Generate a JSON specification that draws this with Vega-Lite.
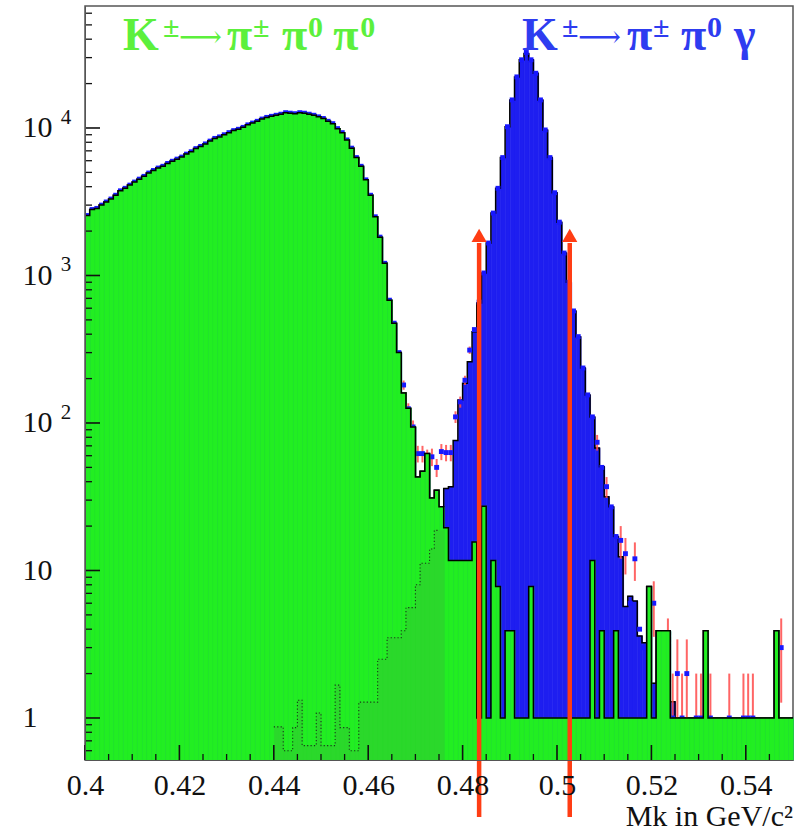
{
"$schema": "https://vega.github.io/schema/vega-lite/v6.json",
"width": 708, "height": 754,
"autosize": "none",
"padding": {"left": 85, "top": 6, "right": 10, "bottom": 72},
"background": "white",
"config": {"view": {"stroke": "#555", "strokeWidth": 1.5}},
"datasets": {
"bins": [
{"b":0.400,"t":2550,"g":2550,"d":2550},
{"b":0.401,"t":2800,"g":2800,"d":2800},
{"b":0.402,"t":2850,"g":2850,"d":2850},
{"b":0.403,"t":3000,"g":3000,"d":3000},
{"b":0.404,"t":3150,"g":3150,"d":3150},
{"b":0.405,"t":3300,"g":3300,"d":3300},
{"b":0.406,"t":3500,"g":3500,"d":3500},
{"b":0.407,"t":3750,"g":3750,"d":3750},
{"b":0.408,"t":3900,"g":3900,"d":3900},
{"b":0.409,"t":4100,"g":4100,"d":4100},
{"b":0.410,"t":4300,"g":4300,"d":4300},
{"b":0.411,"t":4500,"g":4500,"d":4500},
{"b":0.412,"t":4700,"g":4700,"d":4700},
{"b":0.413,"t":4950,"g":4950,"d":4950},
{"b":0.414,"t":5150,"g":5150,"d":5150},
{"b":0.415,"t":5350,"g":5350,"d":5350},
{"b":0.416,"t":5500,"g":5500,"d":5500},
{"b":0.417,"t":5750,"g":5750,"d":5750},
{"b":0.418,"t":5950,"g":5950,"d":5950},
{"b":0.419,"t":6150,"g":6150,"d":6150},
{"b":0.420,"t":6350,"g":6350,"d":6350},
{"b":0.421,"t":6650,"g":6650,"d":6650},
{"b":0.422,"t":6900,"g":6900,"d":6900},
{"b":0.423,"t":7250,"g":7250,"d":7250},
{"b":0.424,"t":7500,"g":7500,"d":7500},
{"b":0.425,"t":7800,"g":7800,"d":7800},
{"b":0.426,"t":8150,"g":8150,"d":8150},
{"b":0.427,"t":8500,"g":8500,"d":8500},
{"b":0.428,"t":8700,"g":8700,"d":8700},
{"b":0.429,"t":9000,"g":9000,"d":9000},
{"b":0.430,"t":9300,"g":9300,"d":9300},
{"b":0.431,"t":9600,"g":9600,"d":9600},
{"b":0.432,"t":9800,"g":9800,"d":9800},
{"b":0.433,"t":10100,"g":10100,"d":10100},
{"b":0.434,"t":10500,"g":10500,"d":10500},
{"b":0.435,"t":10800,"g":10800,"d":10800},
{"b":0.436,"t":11100,"g":11100,"d":11100},
{"b":0.437,"t":11500,"g":11500,"d":11500},
{"b":0.438,"t":11800,"g":11800,"d":11800},
{"b":0.439,"t":12000,"g":12000,"d":12000},
{"b":0.440,"t":12200,"g":12200,"d":12200,"o":0.87},
{"b":0.441,"t":12400,"g":12400,"d":12400,"o":0.87},
{"b":0.442,"t":12700,"g":12700,"d":12700,"o":0.6},
{"b":0.443,"t":12600,"g":12600,"d":12600,"o":0.6},
{"b":0.444,"t":12500,"g":12500,"d":12500,"o":0.86},
{"b":0.445,"t":12700,"g":12700,"d":12700,"o":1.32},
{"b":0.446,"t":12600,"g":12600,"d":12600,"o":0.65},
{"b":0.447,"t":12400,"g":12400,"d":12400,"o":0.65},
{"b":0.448,"t":12200,"g":12200,"d":12200,"o":0.65},
{"b":0.449,"t":11900,"g":11900,"d":11900,"o":1.08},
{"b":0.450,"t":11600,"g":11600,"d":11600,"o":0.65},
{"b":0.451,"t":11100,"g":11100,"d":11100,"o":0.65},
{"b":0.452,"t":10700,"g":10700,"d":10700,"o":0.65},
{"b":0.453,"t":9900,"g":9900,"d":9900,"o":1.67},
{"b":0.454,"t":9300,"g":9300,"d":9300,"o":0.86},
{"b":0.455,"t":8300,"g":8300,"d":8300,"o":0.86},
{"b":0.456,"t":7300,"g":7300,"d":7300,"o":0.6},
{"b":0.457,"t":6300,"g":6300,"d":6300,"o":0.6},
{"b":0.458,"t":5500,"g":5500,"d":5500,"o":1.28},
{"b":0.459,"t":4450,"g":4450,"d":4450,"o":1.28},
{"b":0.460,"t":3500,"g":3500,"d":3500,"o":1.28},
{"b":0.461,"t":2500,"g":2500,"d":2500,"o":1.28},
{"b":0.462,"t":1820,"g":1820,"d":1820,"o":2.5},
{"b":0.463,"t":1210,"g":1210,"d":1210,"o":2.5},
{"b":0.464,"t":680,"g":680,"d":680,"o":3.5},
{"b":0.465,"t":475,"g":475,"d":475,"o":3.5},
{"b":0.466,"t":300,"g":300,"d":300,"o":3.5},
{"b":0.467,"t":160,"g":160,"o":3.9,"d":181,"lo":168,"hi":194},
{"b":0.468,"t":126,"g":126,"o":5.6,"d":125,"lo":114,"hi":136},
{"b":0.469,"t":94,"g":94,"o":5.6,"d":94,"lo":84,"hi":104},
{"b":0.470,"t":43,"g":43,"o":8,"d":62,"lo":54,"hi":70},
{"b":0.471,"t":47,"g":47,"o":11.2,"d":62,"lo":54,"hi":70},
{"b":0.472,"t":62,"g":62,"o":11.2,"d":58,"lo":50,"hi":66},
{"b":0.473,"t":31,"g":31,"o":14,"d":59,"lo":51,"hi":67},
{"b":0.474,"t":35,"g":35,"o":18.7,"d":50,"lo":43,"hi":57},
{"b":0.475,"t":27,"g":27,"o":18.7,"d":64,"lo":56,"hi":72},
{"b":0.476,"t":36,"g":19.5,"d":63,"lo":55,"hi":71},
{"b":0.477,"t":37,"g":11.7,"d":63,"lo":55,"hi":71},
{"b":0.478,"t":76,"g":11.7,"d":110,"lo":100,"hi":120},
{"b":0.479,"t":143,"g":11.7,"d":139,"lo":127,"hi":151},
{"b":0.480,"t":186,"g":11.7,"d":195,"lo":181,"hi":209},
{"b":0.481,"t":260,"g":11.7,"d":312,"lo":294,"hi":330},
{"b":0.482,"t":415,"g":15.6,"d":430},
{"b":0.483,"t":650,"g":1,"d":660},
{"b":0.484,"t":1040,"g":27.3,"d":1040},
{"b":0.485,"t":1660,"g":1,"d":1660},
{"b":0.486,"t":2650,"g":11.7,"d":2650},
{"b":0.487,"t":3900,"g":7.8,"d":3900},
{"b":0.488,"t":6300,"g":1,"d":6300},
{"b":0.489,"t":10200,"g":3.9,"d":10200},
{"b":0.490,"t":15500,"g":3.9,"d":15500},
{"b":0.491,"t":22200,"g":1,"d":22200},
{"b":0.492,"t":29000,"g":1,"d":29000},
{"b":0.493,"t":32000,"g":1,"d":32500},
{"b":0.494,"t":29000,"g":7.8,"d":29000},
{"b":0.495,"t":23500,"g":1,"d":23500},
{"b":0.496,"t":15500,"g":1,"d":15500},
{"b":0.497,"t":9700,"g":1,"d":9700},
{"b":0.498,"t":6300,"g":1,"d":6300},
{"b":0.499,"t":3640,"g":1,"d":3640},
{"b":0.500,"t":2300,"g":1,"d":2300},
{"b":0.501,"t":1420,"g":1,"d":1420},
{"b":0.502,"t":900,"g":1,"d":900},
{"b":0.503,"t":575,"g":1,"d":575},
{"b":0.504,"t":385,"g":1,"d":385},
{"b":0.505,"t":236,"g":1,"d":236},
{"b":0.506,"t":155,"g":1,"d":155},
{"b":0.507,"t":110,"g":11.7,"d":110},
{"b":0.508,"t":67.6,"g":1,"d":74,"lo":65,"hi":83},
{"b":0.509,"t":50.5,"g":3.9,"d":50},
{"b":0.510,"t":31.6,"g":1,"d":37,"lo":31,"hi":43},
{"b":0.511,"t":27,"g":1,"d":27},
{"b":0.512,"t":17,"g":3.9,"d":17},
{"b":0.513,"t":12.4,"g":1,"d":16,"lo":12,"hi":20},
{"b":0.514,"t":5.7,"g":1,"d":13,"lo":9.4,"hi":16.6},
{"b":0.515,"t":6.7,"g":1,"d":6},
{"b":0.516,"t":6.2,"g":1,"d":12,"lo":8.5,"hi":15.5},
{"b":0.517,"t":3.6,"g":1,"d":4},
{"b":0.518,"t":3.24,"g":1,"d":3},
{"b":0.519,"t":7.8,"g":7.8},
{"b":0.520,"t":1.72,"g":1,"d":6,"lo":3.55,"hi":8.45},
{"b":0.521,"t":3.9,"g":3.9},
{"b":0.522,"t":3.9,"g":3.9},
{"b":0.523,"t":3.9,"g":3.9,"d":3,"lo":1.27,"hi":4.73},
{"b":0.524,"t":1.29,"g":1,"d":1,"lo":0.52,"hi":2},
{"b":0.525,"t":1,"g":1,"d":2,"lo":0.59,"hi":3.41},
{"b":0.526,"t":1,"g":1,"d":1,"lo":0.52,"hi":2},
{"b":0.527,"t":1,"g":1,"d":2,"lo":0.59,"hi":3.41},
{"b":0.528,"t":1,"g":1},
{"b":0.529,"t":1,"g":1,"d":1,"lo":0.52,"hi":2},
{"b":0.530,"t":1,"g":1,"d":1,"lo":0.52,"hi":2},
{"b":0.531,"t":3.9,"g":3.9},
{"b":0.532,"t":1,"g":1,"d":1,"lo":0.52,"hi":2},
{"b":0.533,"t":1,"g":1},
{"b":0.534,"t":1,"g":1},
{"b":0.535,"t":1,"g":1},
{"b":0.536,"t":1,"g":1,"d":1,"lo":0.52,"hi":2},
{"b":0.537,"t":1,"g":1},
{"b":0.538,"t":1,"g":1},
{"b":0.539,"t":1,"g":1,"d":1,"lo":0.52,"hi":2},
{"b":0.540,"t":1,"g":1,"d":1,"lo":0.52,"hi":2},
{"b":0.541,"t":1,"g":1,"d":1,"lo":0.52,"hi":2},
{"b":0.542,"t":1,"g":1},
{"b":0.543,"t":1,"g":1},
{"b":0.544,"t":1,"g":1},
{"b":0.545,"t":1,"g":1},
{"b":0.546,"t":3.9,"g":3.9},
{"b":0.547,"t":1,"g":1,"d":3,"lo":1.27,"hi":4.73},
{"b":0.548,"t":1,"g":1},
{"b":0.549,"t":1,"g":1},
{"b":0.550,"t":1,"g":1}
],
"cuts": [{"m": 0.4835}, {"m": 0.5027}],
"exps": [{"v": 100, "p": "2"}, {"v": 1000, "p": "3"}, {"v": 10000, "p": "4"}],
"xt": [{"v":0.4,"m":1},{"v":0.405,"m":0},{"v":0.41,"m":0},{"v":0.415,"m":0},{"v":0.42,"m":1},{"v":0.425,"m":0},{"v":0.43,"m":0},{"v":0.435,"m":0},{"v":0.44,"m":1},{"v":0.445,"m":0},{"v":0.45,"m":0},{"v":0.455,"m":0},{"v":0.46,"m":1},{"v":0.465,"m":0},{"v":0.47,"m":0},{"v":0.475,"m":0},{"v":0.48,"m":1},{"v":0.485,"m":0},{"v":0.49,"m":0},{"v":0.495,"m":0},{"v":0.5,"m":1},{"v":0.505,"m":0},{"v":0.51,"m":0},{"v":0.515,"m":0},{"v":0.52,"m":1},{"v":0.525,"m":0},{"v":0.53,"m":0},{"v":0.535,"m":0},{"v":0.54,"m":1},{"v":0.545,"m":0}],
"yt": [{"v":0.6,"m":0},{"v":0.7,"m":0},{"v":0.8,"m":0},{"v":0.9,"m":0},{"v":1,"m":1},{"v":2,"m":0},{"v":3,"m":0},{"v":4,"m":0},{"v":5,"m":0},{"v":6,"m":0},{"v":7,"m":0},{"v":8,"m":0},{"v":9,"m":0},{"v":10,"m":1},{"v":20,"m":0},{"v":30,"m":0},{"v":40,"m":0},{"v":50,"m":0},{"v":60,"m":0},{"v":70,"m":0},{"v":80,"m":0},{"v":90,"m":0},{"v":100,"m":1},{"v":200,"m":0},{"v":300,"m":0},{"v":400,"m":0},{"v":500,"m":0},{"v":600,"m":0},{"v":700,"m":0},{"v":800,"m":0},{"v":900,"m":0},{"v":1000,"m":1},{"v":2000,"m":0},{"v":3000,"m":0},{"v":4000,"m":0},{"v":5000,"m":0},{"v":6000,"m":0},{"v":7000,"m":0},{"v":8000,"m":0},{"v":9000,"m":0},{"v":10000,"m":1},{"v":20000,"m":0},{"v":30000,"m":0},{"v":40000,"m":0},{"v":50000,"m":0},{"v":60000,"m":0}]
},
"data": {"name": "bins"},
"layer": [
{
"transform": [{"filter": "datum.b < 0.5495"}],
"mark": {"type": "rect", "color": "#1e1ef0", "stroke": "#1e1ef0", "strokeWidth": 0.6, "opacity": 1},
"encoding": {
"x": {"field": "b", "type": "quantitative", "bin": {"binned": true, "step": 0.001}, "title": null,
 "scale": {"domain": [0.4, 0.55], "nice": false, "zero": false},
 "axis": {"values": [0.4,0.42,0.44,0.46,0.48,0.5,0.52,0.54],
  "labelExpr": "format(datum.value, '~g')",
  "ticks": false, "tickSize": 0, "domainColor": "#555", "grid": false, "zindex": 1,
  "labelFont": "Liberation Serif", "labelFontSize": 30, "labelColor": "#111", "labelPadding": 10,
  "labelFlush": false, "labelOverlap": false, "labelBound": false}},
"y": {"field": "t", "type": "quantitative", "title": null,
 "scale": {"type": "log", "domain": [0.519, 67150], "nice": false},
 "axis": {"values": [1,10,100,1000,10000],
  "labelExpr": "datum.value == 1 ? '\u20071' : '10'",
  "ticks": false, "tickSize": 0, "domainColor": "#555", "grid": false, "zindex": 1,
  "labelFont": "Liberation Serif", "labelFontSize": 30, "labelColor": "#111", "labelAlign": "left", "labelBaseline": "middle", "labelPadding": 63,
  "labelOverlap": false, "labelBound": false}},
"y2": {"datum": 0.519}
}
},
{
"mark": {"type": "line", "interpolate": "step-after", "color": "#000", "strokeWidth": 1.5},
"encoding": {"x": {"field": "b", "type": "quantitative", "title": null}, "y": {"field": "t", "type": "quantitative", "title": null}}
},
{
"mark": {"type": "rule", "color": "#ff4a4a", "strokeWidth": 2, "opacity": 0.85, "xOffset": 2.36},
"encoding": {"x": {"field": "b", "type": "quantitative", "title": null}, "y": {"field": "lo", "type": "quantitative", "title": null}, "y2": {"field": "hi"}}
},
{
"mark": {"type": "point", "shape": "square", "filled": true, "size": 24, "color": "#1818ff", "opacity": 1, "xOffset": 2.36},
"encoding": {"x": {"field": "b", "type": "quantitative", "title": null}, "y": {"field": "d", "type": "quantitative", "title": null}}
},
{
"transform": [{"filter": "datum.b < 0.5495"}],
"mark": {"type": "rect", "color": "#22ee22", "stroke": "#22ee22", "strokeWidth": 0.6, "opacity": 1},
"encoding": {"x": {"field": "b", "type": "quantitative", "bin": {"binned": true, "step": 0.001}, "title": null}, "y": {"field": "g", "type": "quantitative", "title": null}, "y2": {"datum": 0.519}}
},
{
"transform": [{"filter": "isValid(datum.o)"}],
"mark": {"type": "rect", "color": "#2bd82b", "stroke": "#2bd82b", "strokeWidth": 0.6, "opacity": 1},
"encoding": {"x": {"field": "b", "type": "quantitative", "bin": {"binned": true, "step": 0.001}, "title": null}, "y": {"field": "o", "type": "quantitative", "title": null}, "y2": {"datum": 0.519}}
},
{
"mark": {"type": "line", "interpolate": "step-after", "color": "#000", "strokeWidth": 1.5},
"encoding": {"x": {"field": "b", "type": "quantitative", "title": null}, "y": {"field": "g", "type": "quantitative", "title": null}}
},
{
"transform": [{"filter": "isValid(datum.o)"}],
"mark": {"type": "line", "interpolate": "step-after", "color": "#1a3a1a", "strokeWidth": 1.1, "strokeDash": [1.2, 2.2]},
"encoding": {"x": {"field": "b", "type": "quantitative", "title": null}, "y": {"field": "o", "type": "quantitative", "title": null}}
},
{
"data": {"name": "xt"}, "transform": [{"filter": "datum.m == 1"}],
"mark": {"type": "rule", "color": "#111", "strokeWidth": 1.6},
"encoding": {"x": {"field": "v", "type": "quantitative", "title": null}, "y": {"datum": 0.519}, "y2": {"datum": 0.656}}
},
{
"data": {"name": "xt"}, "transform": [{"filter": "datum.m != 1"}],
"mark": {"type": "rule", "color": "#111", "strokeWidth": 1.3},
"encoding": {"x": {"field": "v", "type": "quantitative", "title": null}, "y": {"datum": 0.519}, "y2": {"datum": 0.570}}
},
{
"data": {"name": "yt"}, "transform": [{"filter": "datum.m == 1"}],
"mark": {"type": "rule", "color": "#111", "strokeWidth": 1.6},
"encoding": {"y": {"field": "v", "type": "quantitative", "title": null}, "x": {"datum": 0.4}, "x2": {"datum": 0.40318}}
},
{
"data": {"name": "yt"}, "transform": [{"filter": "datum.m != 1"}],
"mark": {"type": "rule", "color": "#111", "strokeWidth": 1.3},
"encoding": {"y": {"field": "v", "type": "quantitative", "title": null}, "x": {"datum": 0.4}, "x2": {"datum": 0.40148}}
},
{
"data": {"name": "cuts"},
"mark": {"type": "rule", "color": "#ff3d14", "strokeWidth": 4.5},
"encoding": {"x": {"field": "m", "type": "quantitative", "title": null}, "y": {"datum": 1660}, "y2": {"datum": 0.213}}
},
{
"data": {"name": "cuts"},
"mark": {"type": "point", "shape": "triangle-up", "filled": true, "size": 230, "color": "#ff3d14", "opacity": 1},
"encoding": {"x": {"field": "m", "type": "quantitative", "title": null}, "y": {"datum": 1870}}
},
{
"data": {"name": "exps"},
"mark": {"type": "text", "align": "center", "baseline": "middle", "font": "Liberation Serif", "fontSize": 21, "color": "#111", "dx": -19, "dy": -10},
"encoding": {"x": {"datum": 0.4}, "y": {"field": "v", "type": "quantitative", "title": null}, "text": {"field": "p"}}
},
{"data": {"values": [{}]}, "mark": {"type": "text", "align": "left", "baseline": "alphabetic", "font": "Liberation Serif", "fontWeight": "bold", "fontSize": 46, "color": "#5cf03c", "text": "K"}, "encoding": {"x": {"datum": 0.40805}, "y": {"datum": 33800}}},
{"data": {"values": [{}]}, "mark": {"type": "text", "align": "left", "baseline": "alphabetic", "font": "Liberation Serif", "fontWeight": "bold", "fontSize": 30, "color": "#5cf03c", "text": "±"}, "encoding": {"x": {"datum": 0.41652}, "y": {"datum": 41400}}},
{"data": {"values": [{}]}, "mark": {"type": "text", "align": "left", "baseline": "alphabetic", "font": "DejaVu Serif", "fontSize": 30, "color": "#5cf03c", "text": "⟶"}, "encoding": {"x": {"datum": 0.41990}, "y": {"datum": 35400}}},
{"data": {"values": [{}]}, "mark": {"type": "text", "align": "left", "baseline": "alphabetic", "font": "Liberation Serif", "fontWeight": "bold", "fontSize": 46, "color": "#5cf03c", "text": "π"}, "encoding": {"x": {"datum": 0.43008}, "y": {"datum": 33800}}},
{"data": {"values": [{}]}, "mark": {"type": "text", "align": "left", "baseline": "alphabetic", "font": "Liberation Serif", "fontWeight": "bold", "fontSize": 30, "color": "#5cf03c", "text": "±"}, "encoding": {"x": {"datum": 0.43560}, "y": {"datum": 41400}}},
{"data": {"values": [{}]}, "mark": {"type": "text", "align": "left", "baseline": "alphabetic", "font": "Liberation Serif", "fontWeight": "bold", "fontSize": 46, "color": "#5cf03c", "text": "π"}, "encoding": {"x": {"datum": 0.44174}, "y": {"datum": 33800}}},
{"data": {"values": [{}]}, "mark": {"type": "text", "align": "left", "baseline": "alphabetic", "font": "Liberation Serif", "fontWeight": "bold", "fontSize": 30, "color": "#5cf03c", "text": "0"}, "encoding": {"x": {"datum": 0.44725}, "y": {"datum": 41400}}},
{"data": {"values": [{}]}, "mark": {"type": "text", "align": "left", "baseline": "alphabetic", "font": "Liberation Serif", "fontWeight": "bold", "fontSize": 46, "color": "#5cf03c", "text": "π"}, "encoding": {"x": {"datum": 0.45258}, "y": {"datum": 33800}}},
{"data": {"values": [{}]}, "mark": {"type": "text", "align": "left", "baseline": "alphabetic", "font": "Liberation Serif", "fontWeight": "bold", "fontSize": 30, "color": "#5cf03c", "text": "0"}, "encoding": {"x": {"datum": 0.45830}, "y": {"datum": 41400}}},
{"data": {"values": [{}]}, "mark": {"type": "text", "align": "left", "baseline": "alphabetic", "font": "Liberation Serif", "fontWeight": "bold", "fontSize": 46, "color": "#2e3cf0", "text": "K"}, "encoding": {"x": {"datum": 0.49258}, "y": {"datum": 33800}}},
{"data": {"values": [{}]}, "mark": {"type": "text", "align": "left", "baseline": "alphabetic", "font": "Liberation Serif", "fontWeight": "bold", "fontSize": 30, "color": "#2e3cf0", "text": "±"}, "encoding": {"x": {"datum": 0.50105}, "y": {"datum": 41400}}},
{"data": {"values": [{}]}, "mark": {"type": "text", "align": "left", "baseline": "alphabetic", "font": "DejaVu Serif", "fontSize": 30, "color": "#2e3cf0", "text": "⟶"}, "encoding": {"x": {"datum": 0.50445}, "y": {"datum": 35400}}},
{"data": {"values": [{}]}, "mark": {"type": "text", "align": "left", "baseline": "alphabetic", "font": "Liberation Serif", "fontWeight": "bold", "fontSize": 46, "color": "#2e3cf0", "text": "π"}, "encoding": {"x": {"datum": 0.51482}, "y": {"datum": 33800}}},
{"data": {"values": [{}]}, "mark": {"type": "text", "align": "left", "baseline": "alphabetic", "font": "Liberation Serif", "fontWeight": "bold", "fontSize": 30, "color": "#2e3cf0", "text": "±"}, "encoding": {"x": {"datum": 0.52035}, "y": {"datum": 41400}}},
{"data": {"values": [{}]}, "mark": {"type": "text", "align": "left", "baseline": "alphabetic", "font": "Liberation Serif", "fontWeight": "bold", "fontSize": 46, "color": "#2e3cf0", "text": "π"}, "encoding": {"x": {"datum": 0.52627}, "y": {"datum": 33800}}},
{"data": {"values": [{}]}, "mark": {"type": "text", "align": "left", "baseline": "alphabetic", "font": "Liberation Serif", "fontWeight": "bold", "fontSize": 30, "color": "#2e3cf0", "text": "0"}, "encoding": {"x": {"datum": 0.53178}, "y": {"datum": 41400}}},
{"data": {"values": [{}]}, "mark": {"type": "text", "align": "left", "baseline": "alphabetic", "font": "Liberation Serif", "fontWeight": "bold", "fontSize": 46, "color": "#2e3cf0", "text": "γ"}, "encoding": {"x": {"datum": 0.53750}, "y": {"datum": 33800}}},
{
"data": {"values": [{}]},
"mark": {"type": "text", "align": "right", "baseline": "alphabetic", "font": "Liberation Serif", "fontSize": 30, "color": "#111", "text": "Mk in GeV/c²"},
"encoding": {"x": {"datum": 0.55}, "y": {"datum": 0.185}}
}
]
}
